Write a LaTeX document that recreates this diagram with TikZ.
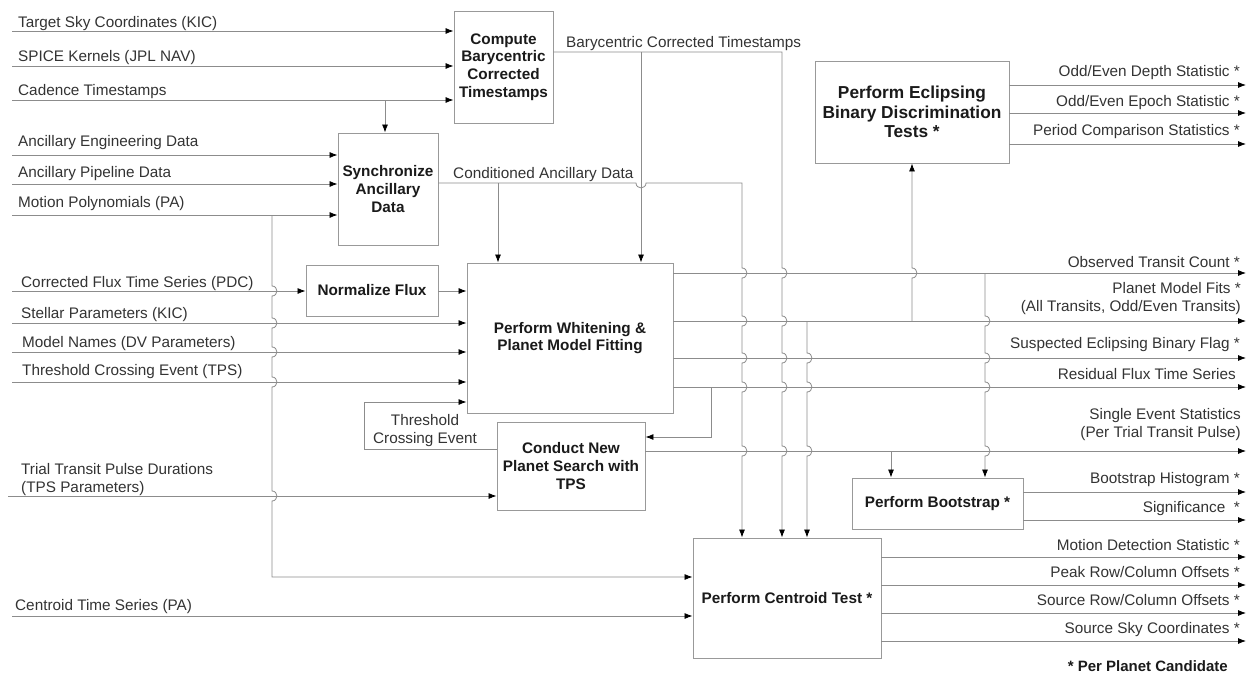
\documentclass[tikz,border=0pt]{standalone}
\usepackage{fontspec}
\setmainfont{Liberation Sans}
\usetikzlibrary{arrows.meta}
\definecolor{linegray}{HTML}{8C8C8C}
\definecolor{boxgray}{HTML}{999999}
\definecolor{txt}{HTML}{333333}
\definecolor{btxt}{HTML}{1A1A1A}
\begin{document}
\begin{tikzpicture}[x=1pt,y=-1pt,
  box/.style={draw=boxgray, line width=0.9pt, fill=white, align=center, inner sep=1pt, text=btxt, font=\fontsize{15.3}{17.7}\selectfont\bfseries},
  lab/.style={inner sep=0pt, text=txt, font=\fontsize{15.3}{17.7}\selectfont},
  arr/.style={draw=linegray, line width=0.8pt, -{Latex[length=8pt,width=6pt,color=black]}},
  vh/.style args={#1/#2}{insert path={-- (#1,#2-5) .. controls (#1+6.5,#2-5) and (#1+6.5,#2+5) .. (#1,#2+5)}},
  vhu/.style args={#1/#2}{insert path={-- (#1,#2+5) .. controls (#1+6.5,#2+5) and (#1+6.5,#2-5) .. (#1,#2-5)}},
  hh/.style args={#1/#2}{insert path={-- (#1-5,#2) .. controls (#1-5,#2+6.5) and (#1+5,#2+6.5) .. (#1+5,#2)}},
]
\useasboundingbox (0,0) rectangle (1249,677);
\coordinate (L) at (12,0);
\coordinate (R) at (1246,0);

% boxes
\node[box, minimum width=99, minimum height=112] (comp) at (503.5,67) {Compute\\Barycentric\\Corrected\\Timestamps};
\node[box, minimum width=100, minimum height=112] (sync) at (388,189) {Synchronize\\Ancillary\\Data};
\node[box, minimum width=132, minimum height=51] (norm) at (372,290.5) {Normalize Flux};
\node[box, minimum width=206, minimum height=150] (white) at (570,338) {Perform Whitening \&\\Planet Model Fitting};
\node[box, minimum width=148, minimum height=88] (cond) at (571,466) {Conduct New\\Planet Search with\\TPS};
\node[box, minimum width=194, minimum height=102, font=\fontsize{17.3}{19.5}\selectfont\bfseries] (ecl) at (912,112) {Perform Eclipsing\\Binary Discrimination\\Tests *};
\node[box, minimum width=171, minimum height=51] (boot) at (937.5,503.5) {Perform Bootstrap *};
\node[box, minimum width=188, minimum height=120] (cent) at (787,598) {Perform Centroid Test *};

% inputs to compute
\draw[arr] (L |- 0,31) -- (comp.west |- 0,31);
\draw[arr] (L |- 0,66) -- (comp.west |- 0,66);
\draw[arr] (L |- 0,100) -- (comp.west |- 0,100);
\draw[arr] (385,100) -- (385,0 |- sync.north);
% inputs to sync
\draw[arr] (L |- 0,155) -- (sync.west |- 0,155);
\draw[arr] (L |- 0,184) -- (sync.west |- 0,184);
\draw[arr] (L |- 0,215) -- (sync.west |- 0,215);
\draw[arr] (272,215) [vh=272/291] [vh=272/323] [vh=272/352] [vh=272/382] [vh=272/496] -- (272,577) -- (cent.west |- 0,577);
% inputs to whitening
\draw[arr] (L |- 0,291) -- (norm.west |- 0,291);
\draw[arr] (norm.east |- 0,291) -- (white.west |- 0,291);
\draw[arr] (L |- 0,323) -- (white.west |- 0,323);
\draw[arr] (L |- 0,352) -- (white.west |- 0,352);
\draw[arr] (L |- 0,382) -- (white.west |- 0,382);
\draw[arr] (cond.west |- 0,449) -- (364,449) -- (364,402) -- (white.west |- 0,402);
% trial transit, centroid time series
\draw[arr] (8,496) -- (cond.west |- 0,496);
\draw[arr] (L |- 0,616) -- (cent.west |- 0,616);

% barycentric corrected timestamps
\draw[arr] (comp.east |- 0,52) -- (782,52) [vh=782/273] [vh=782/321] [vh=782/358] [vh=782/387] [vh=782/451] -- (782,0 |- cent.north);
\draw[arr] (641,52) -- (641,0 |- white.north);
% conditioned ancillary data
\draw[arr] (sync.east |- 0,183) [hh=641/183] -- (742,183) [vh=742/273] [vh=742/321] [vh=742/358] [vh=742/387] [vh=742/451] -- (742,0 |- cent.north);
\draw[arr] (498,183) -- (498,0 |- white.north);

% whitening outputs
\draw[arr] (white.east |- 0,273) -- (R |- 0,273);
\draw[arr] (white.east |- 0,321) -- (R |- 0,321);
\draw[arr] (white.east |- 0,358) -- (R |- 0,358);
\draw[arr] (white.east |- 0,387) -- (R |- 0,387);
\draw[arr] (711,387) -- (711,437) -- (cond.east |- 0,437);
\draw[arr] (cond.east |- 0,451) -- (R |- 0,451);
\draw[arr] (912,321) [vhu=912/273] -- (912,0 |- ecl.south);
\draw[arr] (985,273) [vh=985/321] [vh=985/358] [vh=985/387] [vh=985/451] -- (985,0 |- boot.north);
\draw[arr] (807,321) [vh=807/358] [vh=807/387] [vh=807/451] -- (807,0 |- cent.north);
\draw[arr] (891,451) -- (891,0 |- boot.north);

% eclipsing outputs
\draw[arr] (ecl.east |- 0,85) -- (R |- 0,85);
\draw[arr] (ecl.east |- 0,113) -- (R |- 0,113);
\draw[arr] (ecl.east |- 0,144) -- (R |- 0,144);
% bootstrap outputs
\draw[arr] (boot.east |- 0,492) -- (R |- 0,492);
\draw[arr] (boot.east |- 0,520) -- (R |- 0,520);
% centroid outputs
\draw[arr] (cent.east |- 0,557) -- (R |- 0,557);
\draw[arr] (cent.east |- 0,585) -- (R |- 0,585);
\draw[arr] (cent.east |- 0,613) -- (R |- 0,613);
\draw[arr] (cent.east |- 0,641) -- (R |- 0,641);

% left labels
\node[lab, anchor=base west] (l1) at (18,28) {Target Sky Coordinates (KIC)};
\node[lab, anchor=base west] (l2) at (18,62) {SPICE Kernels (JPL NAV)};
\node[lab, anchor=base west] (l3) at (18,95) {Cadence Timestamps};
\node[lab, anchor=base west] (l4) at (18,146) {Ancillary Engineering Data};
\node[lab, anchor=base west] (l5) at (18,177) {Ancillary Pipeline Data};
\node[lab, anchor=base west] (l6) at (18,207) {Motion Polynomials (PA)};
\node[lab, anchor=base west] (l7) at (21,287) {Corrected Flux Time Series (PDC)};
\node[lab, anchor=base west] (l8) at (21,318) {Stellar Parameters (KIC)};
\node[lab, anchor=base west] (l9) at (22,347.5) {Model Names (DV Parameters)};
\node[lab, anchor=base west] (l10) at (22,375) {Threshold Crossing Event (TPS)};
\node[lab, anchor=base west, align=left] (l11) at (21,492) {Trial Transit Pulse Durations\\(TPS Parameters)};
\node[lab, anchor=base west] (l12) at (15,610) {Centroid Time Series (PA)};
\node[lab, anchor=base west] (m1) at (566,47.5) {Barycentric Corrected Timestamps};
\node[lab, anchor=base west] (m2) at (453,178) {Conditioned Ancillary Data};
\node[lab, anchor=base, align=center] (m3) at (425,443) {Threshold\\Crossing Event};

% right labels
\node[lab, anchor=base east] (r1) at (1240,77) {Odd/Even Depth Statistic *};
\node[lab, anchor=base east] (r2) at (1240,106) {Odd/Even Epoch Statistic *};
\node[lab, anchor=base east] (r3) at (1240,135) {Period Comparison Statistics *};
\node[lab, anchor=base east] (r4) at (1240,267) {Observed Transit Count *};
\node[lab, anchor=base east, align=right] (r5) at (1241,311) {Planet Model Fits *\\(All Transits, Odd/Even Transits)};
\node[lab, anchor=base east] (r6) at (1240,348) {Suspected Eclipsing Binary Flag *};
\node[lab, anchor=base east] (r7) at (1236,379.5) {Residual Flux Time Series};
\node[lab, anchor=base east, align=right] (r8) at (1241,437.5) {Single Event Statistics\\(Per Trial Transit Pulse)};
\node[lab, anchor=base east] (r9) at (1240,483.5) {Bootstrap Histogram *};
\node[lab, anchor=base east] (r10) at (1240,512) {Significance~~*};
\node[lab, anchor=base east] (r11) at (1240,550) {Motion Detection Statistic *};
\node[lab, anchor=base east] (r12) at (1240,577.5) {Peak Row/Column Offsets *};
\node[lab, anchor=base east] (r13) at (1240,605.5) {Source Row/Column Offsets *};
\node[lab, anchor=base east] (r14) at (1240,633.5) {Source Sky Coordinates *};
\node[lab, anchor=base east, text=btxt, font=\fontsize{15}{17}\selectfont\bfseries] (note) at (1228,671) {* Per Planet Candidate};
\end{tikzpicture}
\end{document}
